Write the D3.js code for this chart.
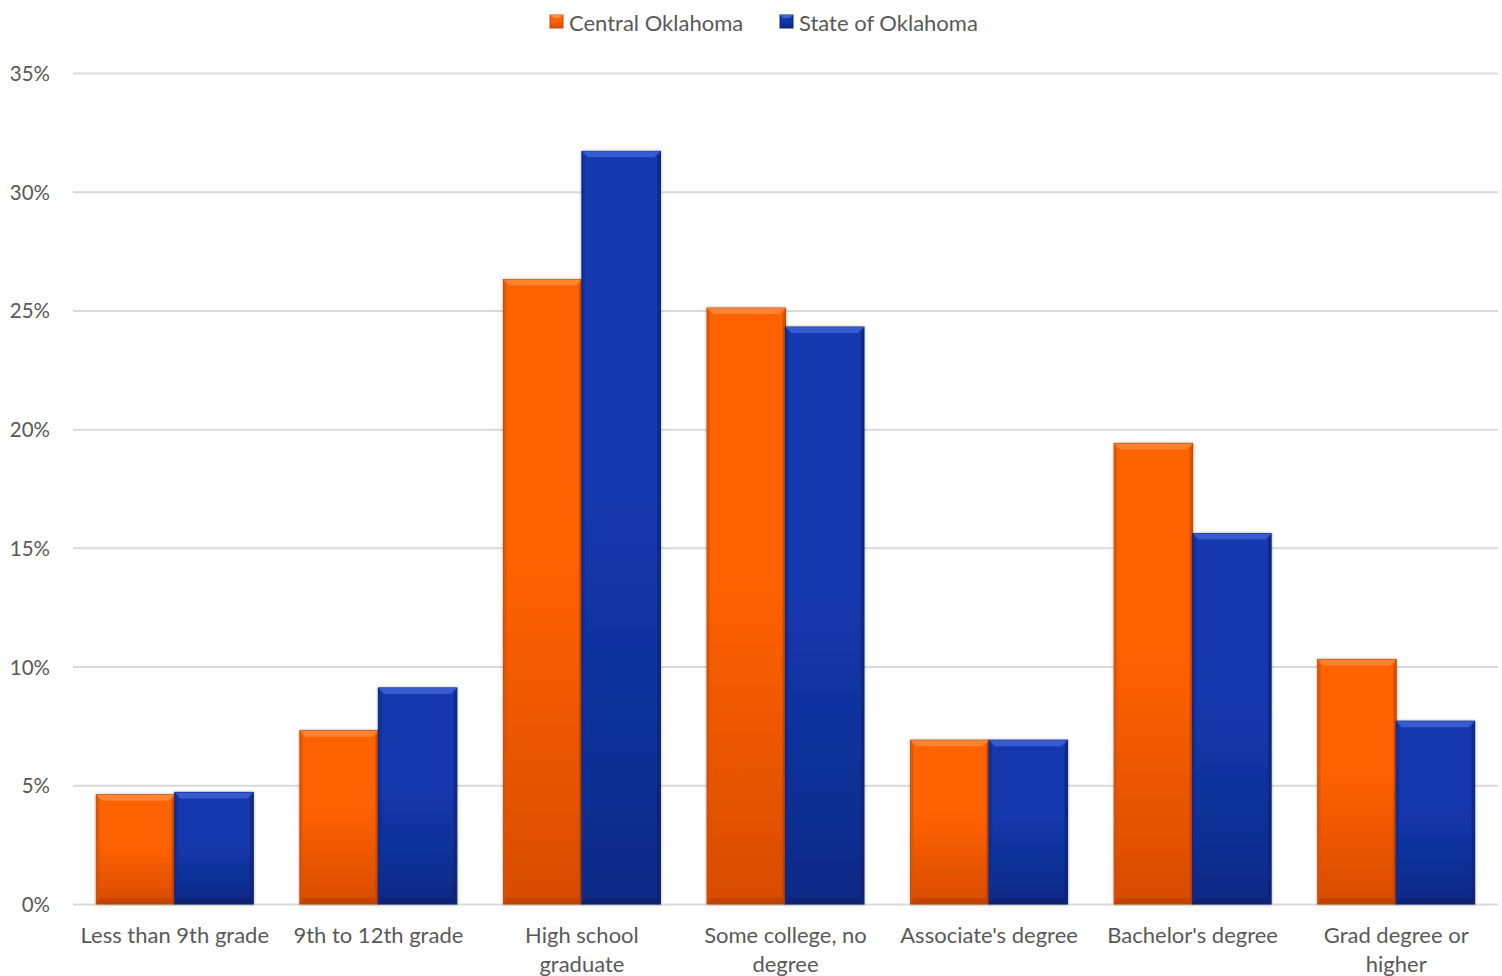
<!DOCTYPE html>
<html>
<head>
<meta charset="utf-8">
<script src="https://cdn.jsdelivr.net/npm/d3@7"></script>
<style>
  html, body { margin: 0; padding: 0; background: #ffffff; }
  svg { display: block; }
  text { font-family: Lato, "Open Sans", sans-serif; fill: #595959; }
</style>
</head>
<body>
<svg id="chart" width="1502" height="976"></svg>
<script>
// Educational attainment shares (percent)
const categories = [
  "Less than 9th grade",
  "9th to 12th grade",
  "High school graduate",
  "Some college, no degree",
  "Associate's degree",
  "Bachelor's degree",
  "Grad degree or higher"
];
const seriesNames = ["Central Oklahoma", "State of Oklahoma"];
const centralOklahoma = [4.6, 7.3, 26.3, 25.1, 6.9, 19.4, 10.3];
const stateOfOklahoma = [4.7, 9.1, 31.7, 24.3, 6.9, 15.6, 7.7];
const yTicks = [0, 5, 10, 15, 20, 25, 30, 35];

const series = [
  { name: seriesNames[0], values: centralOklahoma, key: "org" },
  { name: seriesNames[1], values: stateOfOklahoma, key: "blu" }
];

const palette = {
  org: { top: "#ff6200", bottom: "#d84c05", bevelTop: "#ff8a3a", bevelSide: "#d65205", bevelBottom: "#b23c02", edge: "#c84a05" },
  blu: { top: "#1338ae", bottom: "#0e2a86", bevelTop: "#3f62d6", bevelSide: "#0e2d94", bevelBottom: "#081c60", edge: "#0b2478" }
};

const svg = d3.select("#chart");
const margin = { left: 73, right: 4, top: 73, bottom: 72 };
const W = 1502, H = 976;
const x0 = margin.left, x1 = W - margin.right;
const yBase = H - margin.bottom;

const x = d3.scaleBand().domain(categories).range([x0, x1])
  .paddingInner(0.229).paddingOuter(0.1145);
const xs = d3.scaleBand().domain(series.map(s => s.key)).range([0, x.bandwidth()]).padding(0);
const y = d3.scaleLinear().domain([0, 35]).range([yBase, margin.top]);

const defs = svg.append("defs");
Object.entries(palette).forEach(([k, p]) => {
  const g = defs.append("linearGradient").attr("id", "grad-" + k)
    .attr("x1", 0).attr("y1", 0).attr("x2", 0).attr("y2", 1);
  g.append("stop").attr("offset", "0%").attr("stop-color", p.top);
  g.append("stop").attr("offset", "45%").attr("stop-color", p.top);
  g.append("stop").attr("offset", "100%").attr("stop-color", p.bottom);
});
const f = defs.append("filter").attr("id", "shadow")
  .attr("x", "-10%").attr("y", "-10%").attr("width", "120%").attr("height", "120%");
f.append("feGaussianBlur").attr("in", "SourceAlpha").attr("stdDeviation", 1.5).attr("result", "b");
f.append("feComponentTransfer").attr("in", "b").attr("result", "s")
  .append("feFuncA").attr("type", "linear").attr("slope", 0.35);
const fm = f.append("feMerge");
fm.append("feMergeNode").attr("in", "s");
fm.append("feMergeNode").attr("in", "SourceGraphic");

// Gridlines
svg.append("g").selectAll("line").data(yTicks).join("line")
  .attr("x1", x0).attr("x2", x1)
  .attr("y1", d => y(d) + 0.5).attr("y2", d => y(d) + 0.5)
  .attr("stroke", "#d9d9d9").attr("stroke-width", 2);

// Y tick labels
svg.append("g").selectAll("text").data(yTicks).join("text")
  .attr("x", 50).attr("y", d => y(d))
  .attr("text-anchor", "end").attr("dominant-baseline", "central")
  .style("font-size", "20.5px")
  .text(d => d + "%");

// Bars with a bevelled face
const bev = 6;
const groups = svg.append("g").selectAll("g").data(categories).join("g")
  .attr("transform", c => `translate(${x(c)},0)`);

series.forEach(s => {
  const p = palette[s.key];
  const bars = groups.append("g").attr("filter", "url(#shadow)")
    .datum((c, i) => ({ v: s.values[i] }));
  const bx = xs(s.key), bw = xs.bandwidth();
  bars.append("rect")
    .attr("x", bx).attr("width", bw)
    .attr("y", d => y(d.v)).attr("height", d => yBase - y(d.v))
    .attr("fill", `url(#grad-${s.key})`)
    .attr("stroke", p.edge).attr("stroke-width", 1);
  // top bevel
  bars.append("path").attr("fill", p.bevelTop).attr("opacity", 0.85)
    .attr("d", d => {
      const t = y(d.v);
      return `M${bx},${t}L${bx + bw},${t}L${bx + bw - bev},${t + bev}L${bx + bev},${t + bev}Z`;
    });
  // left bevel
  bars.append("path").attr("fill", p.bevelSide).attr("opacity", 0.6)
    .attr("d", d => {
      const t = y(d.v);
      return `M${bx},${t}L${bx + bev * 0.5},${t + bev}L${bx + bev * 0.5},${yBase - bev}L${bx},${yBase}Z`;
    });
  // right bevel
  bars.append("path").attr("fill", p.bevelBottom).attr("opacity", 0.45)
    .attr("d", d => {
      const t = y(d.v);
      return `M${bx + bw},${t}L${bx + bw - bev * 0.5},${t + bev}L${bx + bw - bev * 0.5},${yBase - bev}L${bx + bw},${yBase}Z`;
    });
  // bottom bevel
  bars.append("path").attr("fill", p.bevelBottom).attr("opacity", 0.55)
    .attr("d", () => `M${bx},${yBase}L${bx + bev * 0.5},${yBase - bev}L${bx + bw - bev * 0.5},${yBase - bev}L${bx + bw},${yBase}Z`);
});

// Category labels, wrapped within the band
const labelLines = {
  "High school graduate": ["High school", "graduate"],
  "Some college, no degree": ["Some college, no", "degree"],
  "Grad degree or higher": ["Grad degree or", "higher"]
};
const xl = svg.append("g").selectAll("text").data(categories).join("text")
  .attr("x", c => x(c) + x.bandwidth() / 2)
  .attr("y", yBase + 39)
  .attr("text-anchor", "middle")
  .style("font-size", "22px");
xl.each(function (c) {
  const lines = labelLines[c] || [c];
  d3.select(this).selectAll("tspan").data(lines).join("tspan")
    .attr("x", x(c) + x.bandwidth() / 2)
    .attr("dy", (d, i) => i === 0 ? 0 : 29)
    .text(d => d);
});

// Legend
const legendItems = [
  { name: seriesNames[0], key: "org", x: 550 },
  { name: seriesNames[1], key: "blu", x: 780 }
];
const lg = svg.append("g").selectAll("g").data(legendItems).join("g")
  .attr("transform", d => `translate(${d.x},15)`);
lg.append("rect").attr("width", 13).attr("height", 13)
  .attr("fill", d => `url(#grad-${d.key})`)
  .attr("stroke", d => palette[d.key].edge);
lg.append("path").attr("fill", d => palette[d.key].bevelTop)
  .attr("d", "M0,0L13,0L10,3L3,3Z");
lg.append("text").attr("x", 19).attr("y", 7).attr("dominant-baseline", "central")
  .style("font-size", "22px").text(d => d.name);
</script>
</body>
</html>
